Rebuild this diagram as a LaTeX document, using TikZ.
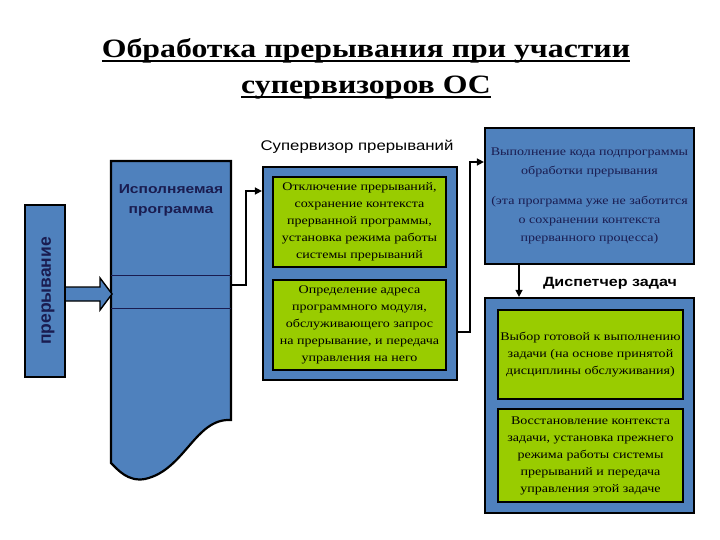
\documentclass[tikz,border=0pt]{standalone}
\usepackage{fontspec}
\setmainfont{Liberation Serif}[FakeStretch=1.2]
\setsansfont{Liberation Sans}[FakeStretch=1.2]
\newfontfamily\plainsans{Liberation Sans}
\newcommand{\titleline}[1]{\leavevmode\setbox0=\hbox{#1}\rlap{\rule[-4.5pt]{\wd0}{2.2pt}}\box0}
\usetikzlibrary{arrows.meta, positioning}

\definecolor{boxblue}{RGB}{79,129,189}
\definecolor{boxgreen}{RGB}{153,204,0}
\definecolor{navytext}{RGB}{26,28,80}

\tikzset{
    bluebox/.style={draw=black, line width=2.2pt, fill=boxblue, inner sep=0pt},
    greenbox/.style={draw=black, line width=2pt, fill=boxgreen, align=center,
        font=\fontsize{11.7}{17}\selectfont, inner sep=0pt},
    caption/.style={font=\sffamily\fontsize{14}{16}\selectfont},
    link/.style={line width=1.4pt, -{Triangle[length=7pt,width=7pt]}}
}

\begin{document}
\begin{tikzpicture}[x=1pt, y=-1pt]
    \useasboundingbox (0,0) rectangle (720,540);

    % Заголовок
    \node[align=center, font=\bfseries\fontsize{26.5}{36}\selectfont] (title) at (366,69)
        {\titleline{Обработка прерывания при участии}\\\titleline{супервизоров ОС}};

    % Прерывание
    \node[bluebox, minimum width=40, minimum height=172] (irq) at (45,291) {};
    \node[rotate=90, font=\plainsans\bfseries\fontsize{17.5}{20}\selectfont, text=navytext]
        at ([xshift=3pt]irq.center) {прерывание};

    % Исполняемая программа
    \draw[bluebox] (111,161) -- (231,161) -- (231,420)
        .. controls (195,418) and (185,470) .. (145,479)
        .. controls (128,482) and (118,470) .. (111,463) -- cycle;
    \draw[line width=1pt, navytext] (111,275) -- (231,275) (111,308) -- (231,308);
    \node[align=center, font=\sffamily\bfseries\fontsize{13}{20}\selectfont, text=navytext]
        (prog) at (171,200) {Исполняемая\\программа};
    \coordinate (progout) at (231,285);

    % Стрелка прерывания
    \draw[bluebox, line width=1.4pt] (irq.east |- 0,287) -- (100,287) -- (100,278) -- (112,294)
        -- (100,310) -- (100,301) -- (irq.east |- 0,301);

    % Супервизор прерываний
    \node[caption] (suplabel) at (357,147) {Супервизор прерываний};
    \node[bluebox, minimum width=194, minimum height=213] (sup) at (360,273.5) {};
    \node[greenbox, minimum width=173, minimum height=90] (sup1) at (359.5,222)
        {Отключение прерываний,\\сохранение контекста\\прерванной программы,\\установка режима работы\\системы прерываний};
    \node[greenbox, minimum width=173, minimum height=90] (sup2) at (359.5,325)
        {Определение адреса\\программного модуля,\\обслуживающего запрос\\на прерывание, и передача\\управления на него};

    % Подпрограмма обработки
    \node[bluebox, minimum width=209, minimum height=136, align=center, text=navytext,
        font=\fontsize{11.7}{18.5}\selectfont] (handler) at (589.5,196)
        {Выполнение кода подпрограммы\\обработки прерывания\\[12pt](эта программа уже не заботится\\о сохранении контекста\\прерванного процесса)};

    % Диспетчер задач
    \node[caption, font=\sffamily\bfseries\fontsize{13.4}{15}\selectfont] (displabel) at (610,283) {Диспетчер задач};
    \node[bluebox, minimum width=209, minimum height=215] (disp) at (589.5,405.5) {};
    \node[greenbox, minimum width=185, minimum height=89] (disp1) at (590.5,354.5)
        {Выбор готовой к выполнению\\задачи (на основе принятой\\дисциплины обслуживания)};
    \node[greenbox, minimum width=185, minimum height=93] (disp2) at (590.5,455.5)
        {Восстановление контекста\\задачи, установка прежнего\\режима работы системы\\прерываний и передача\\управления этой задаче};

    % Связи
    \draw[link] (progout) -- (246,285) |- (sup.west |- 0,191);
    \draw[link] (sup.east |- 0,332) -- (470,332) |- (handler.west |- 0,162);
    \draw[link] (handler.south -| 519,0) -- (disp.north -| 519,0);
\end{tikzpicture}
\end{document}
